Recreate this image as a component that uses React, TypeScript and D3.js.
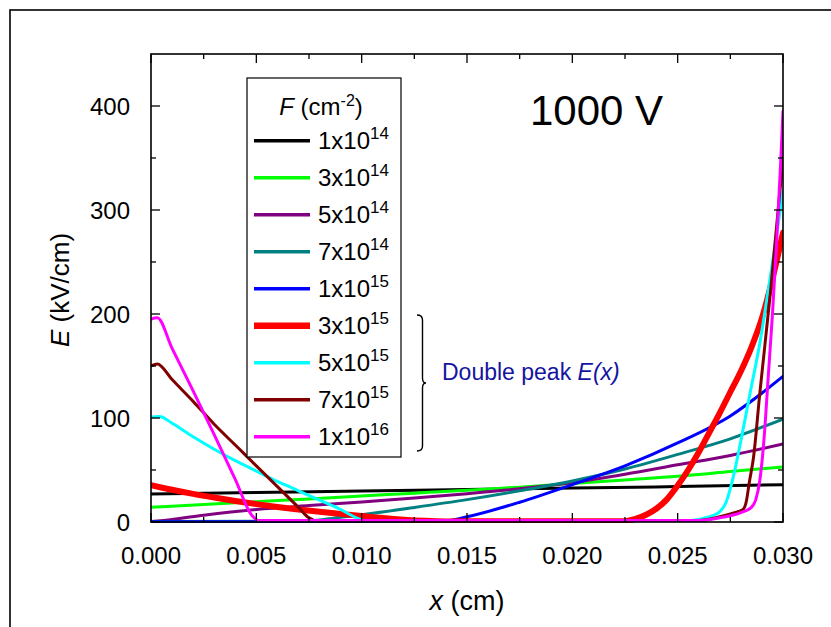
import React from 'react';
import * as d3 from 'd3';

type Pt = [number, number];

const W = 831;
const H = 627;
const PL = 151, PR = 783, PT = 54, PB = 522;

const xMajorTicks = [0, 0.005, 0.01, 0.015, 0.02, 0.025, 0.03];
const xMinorTicks = [0.0025, 0.0075, 0.0125, 0.0175, 0.0225, 0.0275];
const yMajorTicks = [0, 100, 200, 300, 400];
const yMinorTicks = [50, 150, 250, 350];

const fluenceBase = ['1x10', '3x10', '5x10', '7x10', '1x10', '3x10', '5x10', '7x10', '1x10'];
const fluenceExp = ['14', '14', '14', '14', '15', '15', '15', '15', '16'];
const seriesColors = ['#000000', '#00ff00', '#800080', '#008080', '#0000ff', '#ff0000', '#00ffff', '#800000', '#ff00ff'];
const seriesWidths = [3, 3, 3, 3, 3, 6, 3, 3, 3];

const f1e14: Pt[] = [[0, 27], [0.005, 28.3], [0.01, 29.8], [0.015, 31.2], [0.02, 32.6], [0.025, 34.1], [0.03, 35.8]];
const f3e14: Pt[] = [[0, 14.2], [0.0025, 16.8], [0.005, 19.5], [0.0075, 22.2], [0.01, 25], [0.0125, 27.7], [0.015, 30.5], [0.0175, 33.5], [0.02, 37], [0.0225, 40.5], [0.025, 44], [0.0275, 48.5], [0.03, 53]];
const f5e14: Pt[] = [[0, 0.5], [0.001, 2.5], [0.0025, 6.5], [0.005, 12], [0.0075, 15.8], [0.01, 19.2], [0.0125, 23], [0.015, 27.2], [0.0175, 32], [0.02, 38], [0.0225, 46], [0.025, 55], [0.0275, 64], [0.03, 75]];
const f7e14: Pt[] = [[0, 0.5], [0.0072, 0.8], [0.008, 2], [0.009, 4.5], [0.01, 7], [0.0125, 14], [0.015, 21.5], [0.0175, 30], [0.02, 39.5], [0.0225, 51], [0.025, 65], [0.0275, 80], [0.03, 99]];
const f1e15: Pt[] = [[0, 0.3], [0.0138, 0.5], [0.015, 5], [0.0175, 19], [0.02, 36], [0.0225, 54], [0.025, 76], [0.0275, 102], [0.03, 140]];
const f3e15: Pt[] = [[0, 35.5], [0.001, 31], [0.002, 27], [0.003, 23.5], [0.004, 20.2], [0.005, 17.2], [0.006, 14.5], [0.007, 12], [0.008, 9.8], [0.009, 7.8], [0.01, 5.8], [0.011, 3.8], [0.012, 2.2], [0.013, 1.1], [0.014, 0.6], [0.0225, 0.8], [0.023, 3], [0.0235, 7], [0.024, 13], [0.0245, 22], [0.025, 35], [0.0255, 50], [0.026, 67], [0.0265, 86], [0.027, 105], [0.0275, 125], [0.028, 145], [0.0285, 168], [0.029, 196], [0.0295, 234], [0.03, 278]];
const f5e15: Pt[] = [[0, 101], [0.0004, 101.5], [0.001, 95], [0.002, 82], [0.003, 70], [0.004, 59], [0.005, 49], [0.006, 39], [0.007, 30], [0.008, 21], [0.009, 12], [0.0097, 4.5], [0.0102, 1.2], [0.0255, 1.5], [0.0262, 3.5], [0.0267, 6.5], [0.027, 10], [0.0273, 19], [0.0276, 40], [0.028, 78], [0.0284, 120], [0.0289, 172], [0.0294, 236], [0.03, 318]];
const f7e15: Pt[] = [[0, 150], [0.0003, 152], [0.001, 137], [0.002, 116], [0.003, 94], [0.004, 74], [0.005, 54], [0.006, 34], [0.007, 14], [0.0075, 4], [0.0079, 1], [0.026, 1.5], [0.027, 5], [0.0277, 9], [0.0281, 12], [0.02826, 20], [0.0284, 38], [0.0286, 62], [0.0289, 124], [0.0294, 220], [0.03, 350]];
const f1e16: Pt[] = [[0, 195], [0.0003, 196.5], [0.001, 167], [0.002, 126], [0.003, 84], [0.004, 41], [0.0048, 6], [0.0051, 1.5], [0.026, 1.5], [0.027, 4], [0.028, 9], [0.0285, 14], [0.0287, 21], [0.0289, 40], [0.0291, 80], [0.0293, 140], [0.0295, 200], [0.0297, 270], [0.0299, 350], [0.03, 395]];

const allSeries: Pt[][] = [f1e14, f3e14, f5e14, f7e14, f1e15, f3e15, f5e15, f7e15, f1e16];

const FONT = "'Liberation Sans', Arial, sans-serif";

export default function App() {
  const x = d3.scaleLinear().domain([0, 0.03]).range([PL, PR]);
  const y = d3.scaleLinear().domain([0, 450]).range([PB, PT]);
  const line = d3
    .line<Pt>()
    .x((d) => x(d[0]))
    .y((d) => y(d[1]))
    .curve(d3.curveMonotoneX);
  const fmt = d3.format('.3f');

  const MAJ = 9, MIN = 5;
  const legX = 247, legY = 78, legW = 154, legH = 379;
  const entry0 = 140.7, entryStep = 37;

  return (
    <svg width={W} height={H} style={{ position: 'absolute', left: 0, top: 0, background: '#fff' }} fontFamily={FONT}>
      <rect x={0} y={0} width={W} height={H} fill="#fff" />
      <rect x={10} y={10} width={900} height={800} fill="none" stroke="#000" strokeWidth={1.6} />
      <defs>
        <clipPath id="plotclip">
          <rect x={PL} y={PT} width={PR - PL} height={PB - PT + 1} />
        </clipPath>
      </defs>

      <g clipPath="url(#plotclip)">
        {allSeries.map((s, i) => (
          <path key={i} d={line(s) || ''} fill="none" stroke={seriesColors[i]} strokeWidth={seriesWidths[i]} strokeLinejoin="round" strokeLinecap="round" />
        ))}
      </g>

      <rect x={PL} y={PT} width={PR - PL} height={PB - PT} fill="none" stroke="#000" strokeWidth={1.6} />

      {xMajorTicks.map((t, i) => (
        <g key={'xm' + i}>
          <line x1={x(t)} x2={x(t)} y1={PB} y2={PB - MAJ} stroke="#000" strokeWidth={1.3} />
          <line x1={x(t)} x2={x(t)} y1={PT} y2={PT + MAJ} stroke="#000" strokeWidth={1.3} />
          <text x={x(t)} y={564} fontSize={24} textAnchor="middle">{fmt(t)}</text>
        </g>
      ))}
      {xMinorTicks.map((t, i) => (
        <g key={'xn' + i}>
          <line x1={x(t)} x2={x(t)} y1={PB} y2={PB - MIN} stroke="#000" strokeWidth={1.3} />
          <line x1={x(t)} x2={x(t)} y1={PT} y2={PT + MIN} stroke="#000" strokeWidth={1.3} />
        </g>
      ))}
      {yMajorTicks.map((t, i) => (
        <g key={'ym' + i}>
          <line x1={PL} x2={PL + MAJ} y1={y(t)} y2={y(t)} stroke="#000" strokeWidth={1.3} />
          <line x1={PR} x2={PR - MAJ} y1={y(t)} y2={y(t)} stroke="#000" strokeWidth={1.3} />
          <text x={130} y={y(t) + 8.5} fontSize={24} textAnchor="end">{t}</text>
        </g>
      ))}
      {yMinorTicks.map((t, i) => (
        <g key={'yn' + i}>
          <line x1={PL} x2={PL + MIN} y1={y(t)} y2={y(t)} stroke="#000" strokeWidth={1.3} />
          <line x1={PR} x2={PR - MIN} y1={y(t)} y2={y(t)} stroke="#000" strokeWidth={1.3} />
        </g>
      ))}

      <text x={467} y={610} fontSize={27} textAnchor="middle">
        <tspan fontStyle="italic">x</tspan> (cm)
      </text>
      <text transform={`translate(69, 290) rotate(-90)`} fontSize={26} textAnchor="middle">
        <tspan fontStyle="italic">E</tspan> (kV/cm)
      </text>

      <rect x={legX} y={legY} width={legW} height={legH} fill="#fff" stroke="#000" strokeWidth={1.2} />
      <text x={321} y={115} fontSize={24} textAnchor="middle">
        <tspan fontStyle="italic">F</tspan>
        <tspan> (cm</tspan>
        <tspan fontSize={16} dy={-9}>-2</tspan>
        <tspan dy={9}>)</tspan>
      </text>
      {fluenceBase.map((b, i) => {
        const cy = entry0 + i * entryStep;
        return (
          <g key={'leg' + i}>
            <line x1={254} x2={310} y1={cy} y2={cy} stroke={seriesColors[i]} strokeWidth={seriesWidths[i] + 0.5} />
            <text x={318} y={cy + 8.5} fontSize={24}>
              {b}
              <tspan fontSize={17} dy={-10}>{fluenceExp[i]}</tspan>
            </text>
          </g>
        );
      })}

      <text x={530} y={125} fontSize={42}>1000 V</text>

      <path d="M417,315 Q422.5,315 422.5,320 L422.5,378 Q422.5,383 426,383 Q422.5,383 422.5,388 L422.5,446 Q422.5,451 417,451" fill="none" stroke="#000" strokeWidth={1.4} />
      <text x={442} y={380} fontSize={23} fill="#1414a0">
        Double peak <tspan fontStyle="italic">E(x)</tspan>
      </text>
    </svg>
  );
}
